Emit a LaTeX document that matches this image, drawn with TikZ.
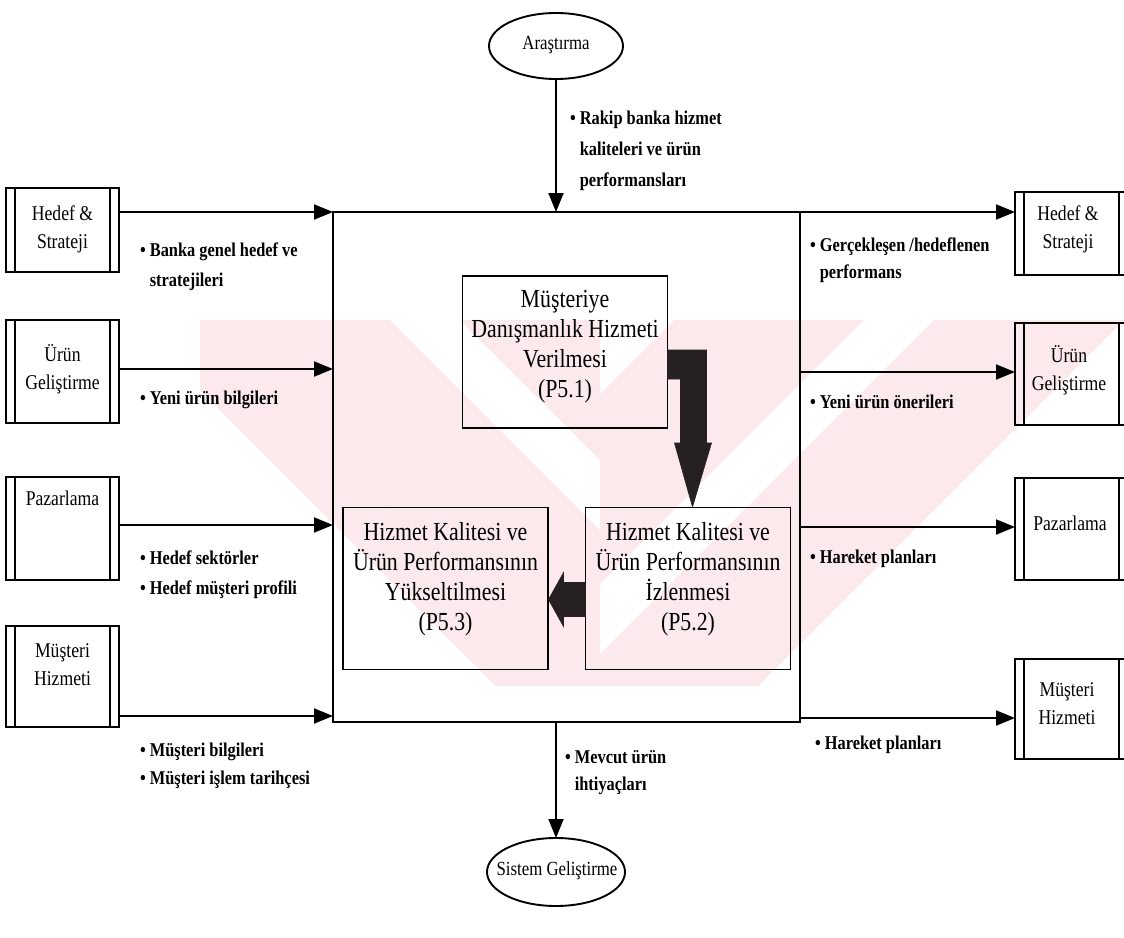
\documentclass[tikz,border=0pt]{standalone}
\usepackage{fontspec}
\setmainfont{Liberation Serif}[FakeStretch=0.84]
\usetikzlibrary{arrows.meta,shapes.geometric,calc}
\definecolor{wmpink}{RGB}{252,233,235}
\definecolor{arrowdark}{RGB}{38,32,32}

\begin{document}
\begin{tikzpicture}[x=1pt,y=-1pt,
  every node/.style={inner sep=0pt, outer sep=0pt},
  frame/.style={draw=black, line width=1.9pt},
  procbox/.style={frame, minimum width=205pt, minimum height=162pt},
  extbox/.style={frame, minimum width=113pt, path picture={
     \draw[line width=1.5pt]
       ([xshift=9pt]path picture bounding box.north west) -- ([xshift=9pt]path picture bounding box.south west)
       ([xshift=-9pt]path picture bounding box.north east) -- ([xshift=-9pt]path picture bounding box.south east);}},
  oval/.style={frame, ellipse},
  arr/.style={line width=1.9pt, -{Triangle[length=19pt,width=15pt]}},
  flowarr/.style={fill=arrowdark, draw=arrowdark, line width=0.6pt, line join=miter},
  proctext/.style={align=center, font=\fontsize{26}{30}\selectfont},
  boxtext/.style={align=center, font=\fontsize{21}{28}\selectfont},
  ovaltext/.style={font=\fontsize{20}{24}\selectfont},
  note/.style={align=left, anchor=base west, font=\bfseries\fontsize{19.5}{30}\selectfont},
]
\useasboundingbox (0,0) rectangle (1124,937);

% faint background mark: diagonal pink strokes
\begin{scope}
  \clip (200,320) rectangle (1124,686);
  \begin{scope}
    \clip (200,320) -- (600,320) -- (600,686) -- (200,686) -- cycle;
    \foreach \a in {0,260,520} {
      \fill[wmpink] ({200+\a},320) -- ++(190,0) -- ++(366,366) -- ++(-190,0) -- cycle;
    }
    \fill[wmpink] (200,320) -- ++(-70,0) -- ++(366,366) -- ++(70,0) -- cycle;
  \end{scope}
  \begin{scope}
    \clip (600,320) -- (1124,320) -- (1124,686) -- (600,686) -- cycle;
    \foreach \a in {0,260,520,780} {
      \fill[wmpink] ({1124-\a},320) -- ++(-190,0) -- ++(-366,366) -- ++(190,0) -- cycle;
    }
  \end{scope}
\end{scope}

% central process frame
\node[frame, minimum width=467pt, minimum height=510pt] (main) at (566.5,467) {};

% sub-processes
\node[procbox, minimum height=152pt] (p51) at (565,352) {};
\node[proctext] (p51t) at (565,347) {Müşteriye\\Danışmanlık Hizmeti\\Verilmesi\\(P5.1)};
\node[procbox] (p53) at (445.5,588.5) {};
\node[proctext] (p53t) at (445.5,579) {Hizmet Kalitesi ve\\Ürün Performansının\\Yükseltilmesi\\(P5.3)};
\node[procbox] (p52) at (688,588.5) {};
\node[proctext] (p52t) at (688,579) {Hizmet Kalitesi ve\\Ürün Performansının\\İzlenmesi\\(P5.2)};

% flow between sub-processes
\fill[flowarr] (p51.north east) ++(0,74) -- ++(39,0) -- ++(0,93) -- ++(5,0)
   -- ++(-19,64) -- ++(-18,-64) -- ++(6,0) -- ++(0,-64) -- ++(-13,0) -- cycle;
\fill[flowarr] (p52.west) ++(0,-6) -- ++(-22,0) -- ++(0,-10) -- ++(-15,27)
   -- ++(15,27) -- ++(0,-10) -- ++(22,0) -- cycle;

% external units, left
\node[extbox, minimum height=84pt] (hsL) at (62.5,230) {};
\node[boxtext] (hsLt) at (62.5,229) {Hedef \&\\Strateji};
\node[extbox, minimum height=103pt] (ugL) at (62.5,371.5) {};
\node[boxtext] (ugLt) at (62.5,369) {Ürün\\Geliştirme};
\node[extbox, minimum height=103pt] (pzL) at (62.5,528.5) {};
\node[boxtext] (pzLt) at (62.5,498) {Pazarlama};
\node[extbox, minimum height=101pt] (mhL) at (62.5,676.5) {};
\node[boxtext] (mhLt) at (62.5,665) {Müşteri\\Hizmeti};

% external units, right
\node[extbox, minimum height=83pt] (hsR) at (1071.5,233.5) {};
\node[boxtext] (hsRt) at (1068,229) {Hedef \&\\Strateji};
\node[extbox, minimum height=102pt] (ugR) at (1071.5,374) {};
\node[boxtext] (ugRt) at (1069,370) {Ürün\\Geliştirme};
\node[extbox, minimum height=102pt] (pzR) at (1071.5,529) {};
\node[boxtext] (pzRt) at (1070,523) {Pazarlama};
\node[extbox, minimum height=100pt] (mhR) at (1071.5,709) {};
\node[boxtext] (mhRt) at (1067,704) {Müşteri\\Hizmeti};

% research and system development
\node[oval, minimum width=134pt, minimum height=66pt] (ara) at (556,46) {};
\node[ovaltext] (arat) at (556,45) {Araştırma};
\node[oval, minimum width=138pt, minimum height=68pt] (sis) at (556,872) {};
\node[ovaltext] (sist) at (557,871) {Sistem Geliştirme};

% helper heights for the side flows
\coordinate (yUg) at (0,369);
\coordinate (yPz) at (0,525);
\coordinate (yMh) at (0,716);
\coordinate (yUgR) at (0,372);
\coordinate (yPzR) at (0,527);
\coordinate (yMhR) at (0,718);

% inputs
\draw[arr] (ara.south) -- (ara.south |- main.north);
\draw[arr] (hsL.east |- main.north west) -- (main.north west);
\draw[arr] (ugL.east |- yUg) -- (main.west |- yUg);
\draw[arr] (pzL.east |- yPz) -- (main.west |- yPz);
\draw[arr] (mhL.east |- yMh) -- (main.west |- yMh);

% outputs
\draw[arr] (main.north east) -- (hsR.west |- main.north east);
\draw[arr] (main.east |- yUgR) -- (ugR.west |- yUgR);
\draw[arr] (main.east |- yPzR) -- (pzR.west |- yPzR);
\draw[arr] (main.east |- yMhR) -- (mhR.west |- yMhR);
\draw[arr] (sis.north |- main.south) -- (sis.north);

% flow descriptions (anchored at the baseline of the last line)
\node[note] (n1) at (140,286) {\textbullet\ Banka genel hedef ve\\\phantom{\textbullet\ }stratejileri};
\node[note] (n2) at (140,404) {\textbullet\ Yeni ürün bilgileri};
\node[note] (n3) at (140,594) {\textbullet\ Hedef sektörler\\\textbullet\ Hedef müşteri profili};
\node[note, font=\bfseries\fontsize{19.5}{28}\selectfont] (n4) at (140,784) {\textbullet\ Müşteri bilgileri\\\textbullet\ Müşteri işlem tarihçesi};
\node[note, font=\bfseries\fontsize{19.5}{31}\selectfont] (n5) at (570,186) {\textbullet\ Rakip banka hizmet\\\phantom{\textbullet\ }kaliteleri ve ürün\\\phantom{\textbullet\ }performansları};
\node[note, font=\bfseries\fontsize{19.5}{27}\selectfont] (n6) at (810,278) {\textbullet\ Gerçekleşen /hedeflenen\\\phantom{\textbullet\ }performans};
\node[note] (n7) at (810,408) {\textbullet\ Yeni ürün önerileri};
\node[note] (n8) at (810,563) {\textbullet\ Hareket planları};
\node[note] (n9) at (815,749) {\textbullet\ Hareket planları};
\node[note, font=\bfseries\fontsize{19.5}{27}\selectfont] (n10) at (565,790) {\textbullet\ Mevcut ürün\\\phantom{\textbullet\ }ihtiyaçları};
\end{tikzpicture}
\end{document}
